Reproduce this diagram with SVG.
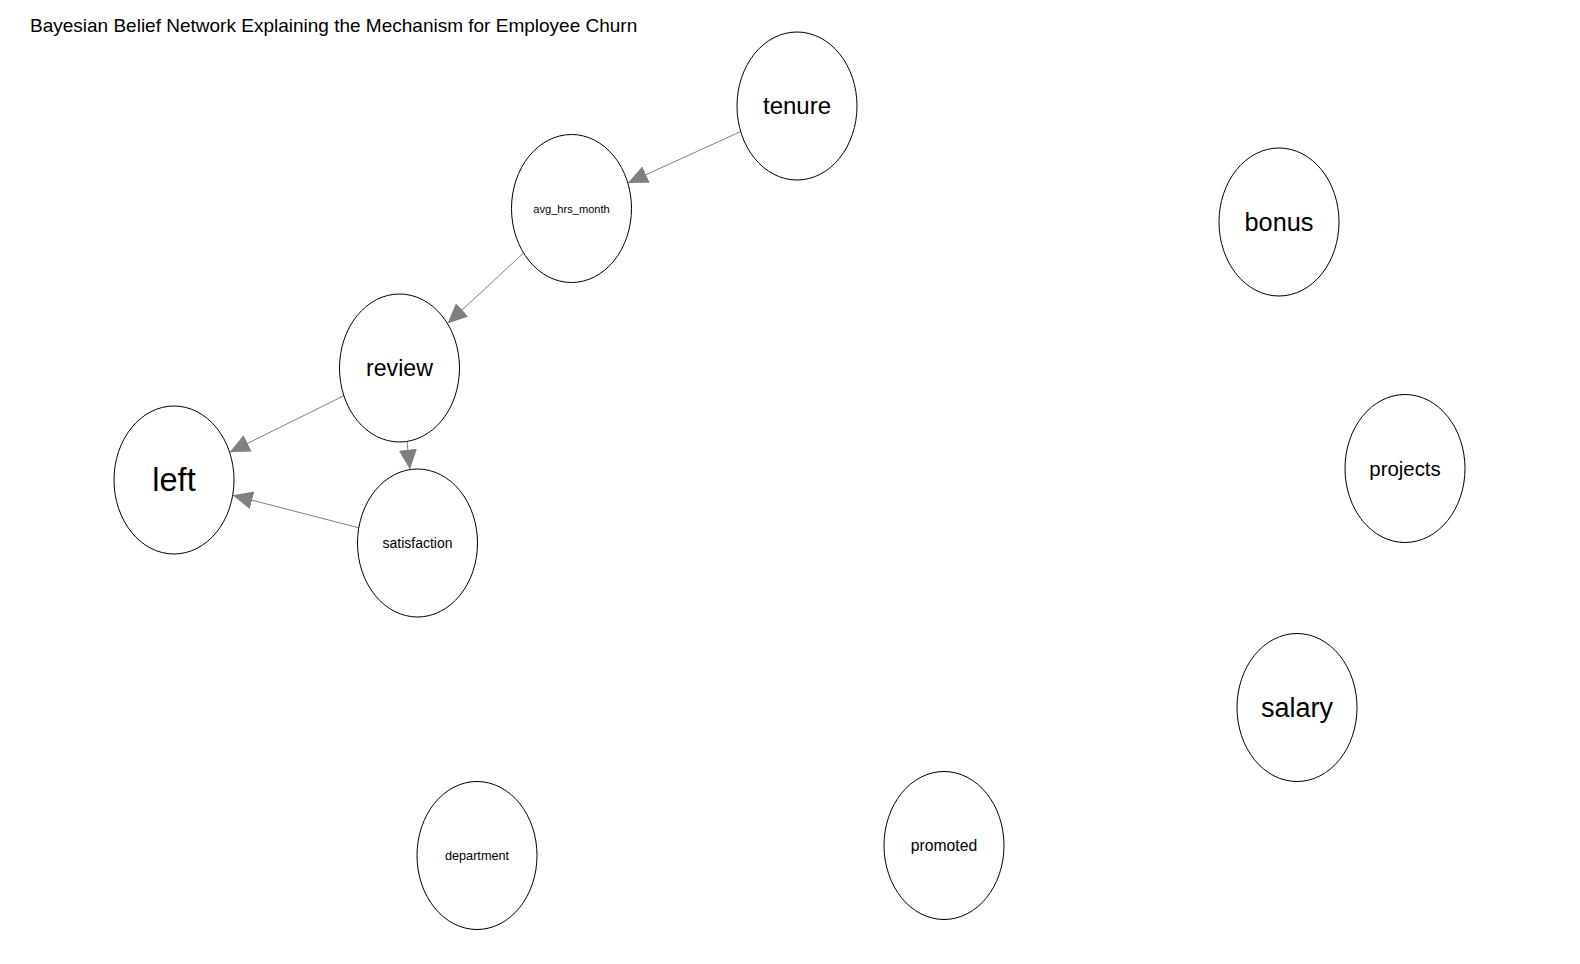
<svg xmlns="http://www.w3.org/2000/svg" width="1580" height="964" viewBox="0 0 1580 964">
<style>
.node ellipse{fill:#fff;stroke:#000;stroke-width:1}
.node text{font-family:"Liberation Sans",Arial,sans-serif;fill:#000;text-anchor:middle}
.edge{stroke:#808080;stroke-width:1;fill:none;marker-end:url(#arr)}
.title{font-family:"Liberation Sans",Arial,sans-serif;font-size:19px;fill:#000}
</style>
<defs>
<marker id="arr" markerUnits="userSpaceOnUse" viewBox="0 0 20 20" refX="20" refY="10" markerWidth="20" markerHeight="20" orient="auto">
<path d="M0,1 L20,10 L0,19 z" fill="#808080"/>
</marker>
</defs>
<rect width="1580" height="964" fill="#fff"/>
<text class="title" x="30" y="32">Bayesian Belief Network Explaining the Mechanism for Employee Churn</text>
<g id="edges">
<line class="edge" x1="740.7" y1="131.6" x2="627.8" y2="182.9"/>
<line class="edge" x1="523.5" y1="253" x2="447.5" y2="323.5"/>
<line class="edge" x1="343.9" y1="395.7" x2="229.6" y2="452.3"/>
<line class="edge" x1="407" y1="441.4" x2="410" y2="469.6"/>
<line class="edge" x1="358.8" y1="527.8" x2="232.7" y2="495.2"/>
</g>
<g id="tenure" class="node"><ellipse cx="797" cy="106" rx="60" ry="74"/><text x="797" y="114" font-size="24">tenure</text></g>
<g id="avg_hrs_month" class="node"><ellipse cx="571.5" cy="208.5" rx="60" ry="74"/><text x="571.5" y="212.5" font-size="11.1">avg_hrs_month</text></g>
<g id="review" class="node"><ellipse cx="399.5" cy="368" rx="60" ry="74"/><text x="399.5" y="376" font-size="23.2">review</text></g>
<g id="left" class="node"><ellipse cx="174" cy="480" rx="60" ry="74"/><text x="174" y="491" font-size="32.5">left</text></g>
<g id="satisfaction" class="node"><ellipse cx="417.5" cy="543" rx="60" ry="74"/><text x="417.5" y="548" font-size="14">satisfaction</text></g>
<g id="bonus" class="node"><ellipse cx="1279" cy="222" rx="60" ry="74"/><text x="1279" y="231" font-size="25.3">bonus</text></g>
<g id="projects" class="node"><ellipse cx="1405" cy="468.5" rx="60" ry="74"/><text x="1405" y="475.5" font-size="20.4">projects</text></g>
<g id="salary" class="node"><ellipse cx="1297" cy="707.5" rx="60" ry="74"/><text x="1297" y="717" font-size="27">salary</text></g>
<g id="department" class="node"><ellipse cx="477" cy="855.5" rx="60" ry="74"/><text x="477" y="860" font-size="12.7">department</text></g>
<g id="promoted" class="node"><ellipse cx="944" cy="845.5" rx="60" ry="74"/><text x="944" y="851" font-size="15.7">promoted</text></g>
</svg>
